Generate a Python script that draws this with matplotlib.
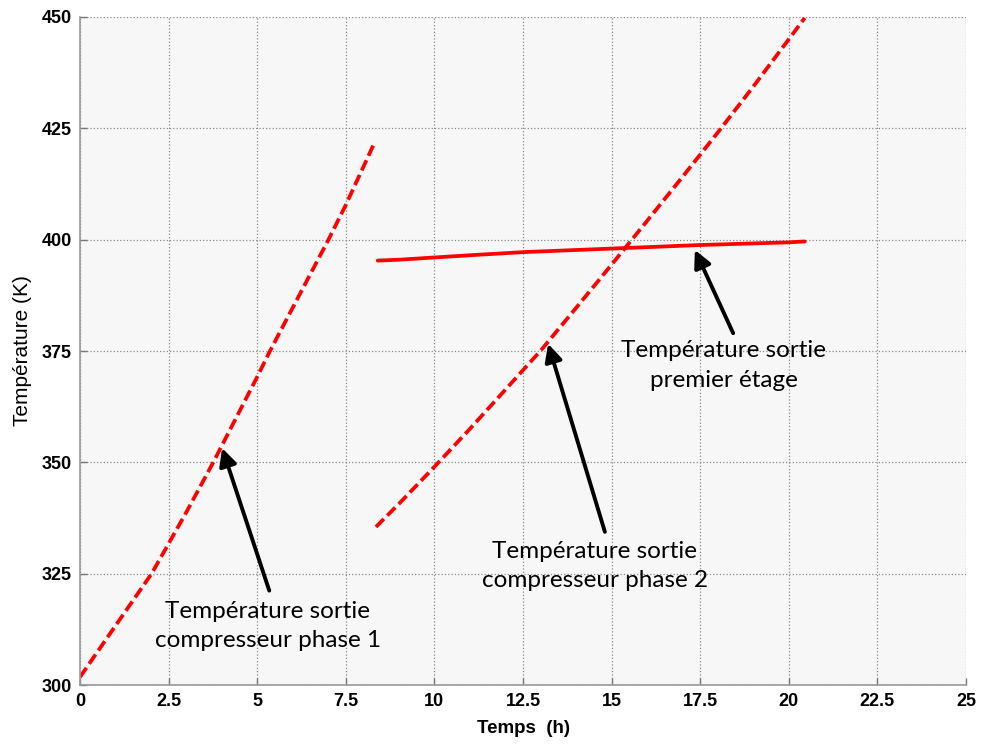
import numpy as np
import matplotlib.pyplot as plt

# compresseur phase 1 (h, K)
t_phase1 = [0, 1, 2.02, 3, 3.76, 5, 5.36, 7.01, 7.5, 8.3]
T_phase1 = [301.8, 313.3, 325.0, 338.8, 350.0, 369.2, 375.0, 400.0, 407.8, 421.6]

# compresseur phase 2
t_phase2 = [8.35, 9, 10, 11, 12, 13, 14, 15, 16, 17, 18, 19, 20, 20.45]
T_phase2 = [335.5, 340.7, 349.0, 357.5, 366.3, 375.1, 384.7, 394.4, 404.2, 414.1, 424.1, 434.4, 445.0, 449.8]

# sortie premier etage
t_etage = [8.4, 9, 10, 11, 12.5, 15, 17.5, 20, 20.45]
T_etage = [395.3, 395.5, 396.0, 396.5, 397.2, 398.0, 398.8, 399.4, 399.6]

xticks = [0, 2.5, 5, 7.5, 10, 12.5, 15, 17.5, 20, 22.5, 25]
xticklabels = ['0', '2.5', '5', '7.5', '10', '12.5', '15', '17.5', '20', '22.5', '25']
yticks = [300, 325, 350, 375, 400, 425, 450]

# (texte, centre du texte, pointe de la fleche, queue de la fleche)
notes = [
    ('Température sortie\ncompresseur phase 1', (5.30, 313.2), (4.01, 353.2), (5.34, 321.2)),
    ('Température sortie\ncompresseur phase 2', (14.53, 326.7), (13.21, 376.6), (14.81, 334.4)),
    ('Température sortie\npremier étage', (18.17, 371.8), (17.35, 397.7), (18.43, 379.0)),
]

fig = plt.figure(figsize=(9.83, 7.45), dpi=100)
ax = fig.add_axes([0.0814, 0.0805, 0.9013, 0.8967])
ax.set_facecolor('#f7f7f7')

red = '#ff0000'
ax.plot(t_phase1, T_phase1, color=red, lw=2.7, dashes=(3, 1.3))
ax.plot(t_phase2, T_phase2, color=red, lw=2.7, dashes=(3, 1.3))
ax.plot(t_etage, T_etage, color=red, lw=2.7, solid_capstyle='round')

ax.set_xlim(0, 25)
ax.set_ylim(300, 450)
ax.set_xticks(xticks)
ax.set_xticklabels(xticklabels)
ax.set_yticks(yticks)
ax.grid(True, color='#8a8a8a', linestyle=':', lw=0.9)

for s in ['top', 'right']:
    ax.spines[s].set_visible(False)
for s in ['left', 'bottom']:
    ax.spines[s].set_color('#999999')
    ax.spines[s].set_linewidth(1.2)

ax.tick_params(direction='in', length=5, color='#777777', width=1,
               labelsize=13, pad=6)
for lab in ax.get_xticklabels() + ax.get_yticklabels():
    lab.set_family('Liberation Sans')
    lab.set_fontweight('bold')

ax.set_xlabel('Temps  (h)', fontsize=13.5, fontweight='bold', family='Liberation Sans', labelpad=7)
ax.set_ylabel('Température (K)', fontsize=15, family='Liberation Sans', labelpad=7)

for txt, pos, head, tail in notes:
    ax.annotate('', xy=head, xytext=tail,
                arrowprops=dict(arrowstyle='-|>', color='black', lw=2.8,
                                mutation_scale=26, shrinkA=0, shrinkB=0))
    ax.text(pos[0], pos[1], txt, ha='center', va='center', fontsize=17.5,
            family='Lato', linespacing=1.5)

fig.savefig('out.png', dpi=100)
